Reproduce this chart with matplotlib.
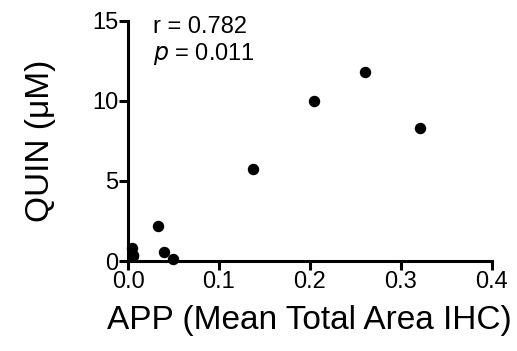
import numpy as np
import matplotlib
matplotlib.use("Agg")
import matplotlib.pyplot as plt

plt.rcParams['font.family'] = ['Liberation Sans', 'DejaVu Sans']

# APP (mean total area IHC) vs QUIN (uM)
app = [0.004, 0.006, 0.005, 0.033, 0.040, 0.049, 0.137, 0.2045, 0.261, 0.321]
quin = [0.81, 0.375, 0.31, 2.19, 0.56, 0.125, 5.73, 9.96, 11.81, 8.29]

xticks = [0.0, 0.1, 0.2, 0.3, 0.4]
yticks = [0, 5, 10, 15]

fig = plt.figure(figsize=(5.17, 3.51), dpi=100)
ax = fig.add_axes([0.2476, 0.2564, 0.7035, 0.6846])

ax.scatter(app, quin, s=52, color='black', zorder=3, clip_on=False)

ax.set_xlim(0, 0.4)
ax.set_ylim(0, 15)
ax.set_xticks(xticks)
ax.set_xticklabels(['%.1f' % t for t in xticks])
ax.set_yticks(yticks)

for s in ['top', 'right']:
    ax.spines[s].set_visible(False)
for s in ['left', 'bottom']:
    ax.spines[s].set_linewidth(2.2)
ax.tick_params(width=2.2, length=6.5, labelsize=17, pad=0.5)

ax.set_xlabel('APP (Mean Total Area IHC)', fontsize=24, labelpad=9)
ax.set_ylabel('QUIN (\u03bcM)', fontsize=24, labelpad=26)

fig.text(0.296, 0.906, 'r = 0.782', fontsize=17, va='baseline')
fig.text(0.296, 0.829, '$\\it{p}$ = 0.011', fontsize=17, va='baseline')

fig.savefig('out.png', dpi=100)
